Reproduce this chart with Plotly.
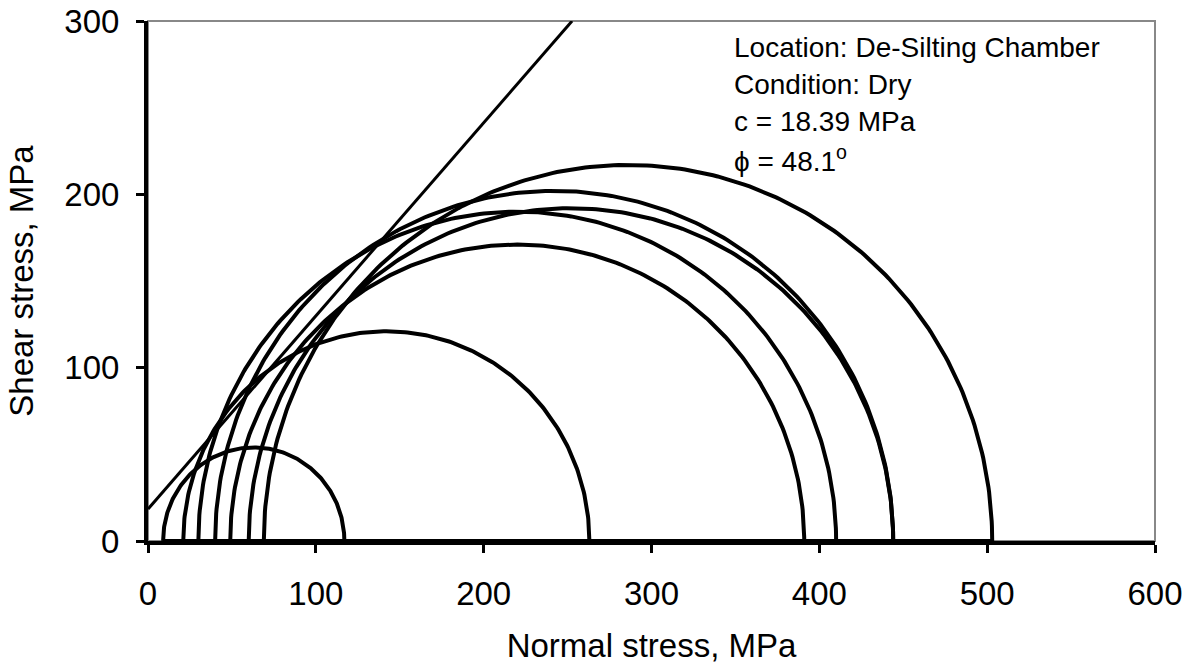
import numpy as np
import plotly.graph_objects as go

# Mohr circles: minor and major principal stresses (MPa)
sigma3 = [9, 21, 30, 40, 49, 60, 69]
sigma1 = [117, 263, 410, 444, 391, 444, 503]

# Mohr-Coulomb envelope parameters
cohesion = 18.39      # MPa
phi_deg = 48.1        # degrees

x_ticks = [0, 100, 200, 300, 400, 500, 600]
y_ticks = [0, 100, 200, 300]
ann_lines = ["Location: De-Silting Chamber", "Condition: Dry",
             "c = 18.39 MPa", "ϕ = 48.1<sup>o</sup>"]

fig = go.Figure()

theta = np.linspace(np.pi, 0, 241)
for s3, s1 in zip(sigma3, sigma1):
    c = (s1 + s3) / 2.0
    r = (s1 - s3) / 2.0
    xs = list(c + r * np.cos(theta)) + [s3]
    ys = list(r * np.sin(theta)) + [0]
    fig.add_trace(go.Scatter(x=xs, y=ys, mode="lines",
                             line=dict(color="black", width=4),
                             showlegend=False, hoverinfo="skip"))

tan_phi = np.tan(np.radians(phi_deg))
x_end = (y_ticks[-1] - cohesion) / tan_phi
fig.add_trace(go.Scatter(x=[0, x_end], y=[cohesion, cohesion + tan_phi * x_end],
                         mode="lines", line=dict(color="black", width=3),
                         showlegend=False, hoverinfo="skip"))

L, R, T, B = 148, 47, 21, 129
W, H = 1202, 670
ph = H - T - B

font_family = "Liberation Sans, Arial, sans-serif"

centers = [47, 84.5, 122, 159]
for txt, py in zip(ann_lines, centers):
    fig.add_annotation(text=txt, xref="paper", yref="paper",
                       x=(732 - L) / (W - L - R), y=(H - B - py) / ph,
                       xanchor="left", yanchor="middle", showarrow=False,
                       font=dict(family=font_family, size=28, color="black"))

fig.add_shape(type="rect", xref="paper", yref="paper", x0=0, y0=0, x1=1, y1=1,
              line=dict(color="#888888", width=2), layer="below")

fig.update_layout(
    width=W, height=H,
    margin=dict(l=L, r=R, t=T, b=B, autoexpand=False),
    paper_bgcolor="white", plot_bgcolor="white",
    font=dict(family=font_family, size=33, color="black"),
    xaxis=dict(range=[0, 600], tickvals=x_ticks, showgrid=False, zeroline=False,
               showline=True, linecolor="black", linewidth=4, automargin=False,
               ticks="outside", ticklen=8, tickwidth=3, tickcolor="black",
               ticklabelstandoff=12,
               title=dict(text="Normal stress, MPa", standoff=24,
                          font=dict(size=33))),
    yaxis=dict(range=[0, 300], tickvals=y_ticks, showgrid=False, zeroline=False,
               showline=True, linecolor="black", linewidth=4, automargin=False,
               ticks="outside", ticklen=8, tickwidth=3, tickcolor="black",
               ticklabelstandoff=10,
               title=dict(text="Shear stress, MPa", standoff=22,
                          font=dict(size=33))),
)

fig.write_html("out.html")
